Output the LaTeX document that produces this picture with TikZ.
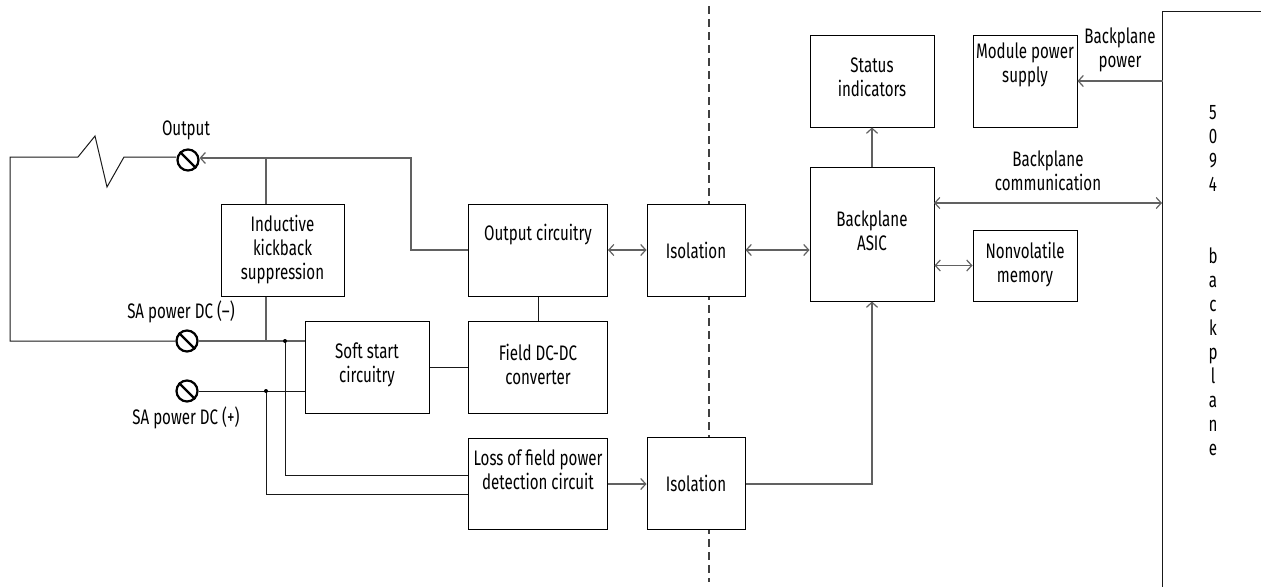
\documentclass[tikz,border=0pt]{standalone}
\usepackage{fontspec}
\setmainfont[FakeStretch=0.72]{Fira Sans}
\usetikzlibrary{arrows.meta}
\tikzset{
	blockbox/.style={draw=black, line width=1, fill=white, inner sep=0, align=center},
	wire/.style={line width=1.2, color=black!62},
	thinwire/.style={line width=1, color=black!90},
	barbs/.style={>={Straight Barb[length=5,width=11]}},
	terminal/.style={draw=black, line width=2.2, fill=white, circle, minimum size=21, inner sep=0},
	plainlabel/.style={inner sep=0, align=center},
}

\begin{document}
\begin{tikzpicture}[x=1pt, y=-1pt, font=\fontsize{21}{24}\selectfont, barbs]
	\useasboundingbox (0, 0) rectangle (1261, 587);

	%%%%% divider %%%%%
	\draw[line width=2, color=black!75, dash pattern=on 8 off 5] (709, 6) -- (709, 582);

	%%%%% blocks %%%%%
	\node[blockbox, minimum width=123, minimum height=92] (inductive) at (282.5, 250) {Inductive\\kickback\\suppression};
	\node[blockbox, minimum width=124, minimum height=92] (soft) at (367, 367) {Soft start\\circuitry\\[-16]};
	\node[blockbox, minimum width=139, minimum height=92] (output) at (538, 250) {Output circuitry\\[12]};
	\node[blockbox, minimum width=139, minimum height=92] (field) at (538, 367) {Field DC-DC\\converter\\[-18]};
	\node[blockbox, minimum width=139, minimum height=91] (loss) at (538, 483.5) {Loss of field power\\detection circuit\\[3]};
	\node[blockbox, minimum width=98, minimum height=92] (isoa) at (696, 250) {Isolation};
	\node[blockbox, minimum width=98, minimum height=92] (isob) at (696, 483) {Isolation};
	\node[blockbox, minimum width=124, minimum height=134] (asic) at (872, 234) {Backplane\\ASIC\\[-18]};
	\node[blockbox, minimum width=124, minimum height=92] (status) at (872, 81) {Status\\indicators\\[-16]};
	\node[blockbox, minimum width=104, minimum height=92] (supply) at (1025, 81) {Module power\\supply\\[12]};
	\node[blockbox, minimum width=104, minimum height=71] (memory) at (1025, 265.5) {Nonvolatile\\memory\\[-17]};

	%%%%% backplane %%%%%
	\coordinate (railtop) at (1162.5, 11);
	\coordinate (railend) at (1261, 11);
	\coordinate (railfoot) at (1162.5, 587);
	\draw[thinwire] (railend) -- (railtop) -- (railfoot);
	\node[plainlabel] (railtext) at (1213, 280.5) {5\\0\\9\\4\\~\\~\\b\\a\\c\\k\\p\\l\\a\\n\\e};

	%%%%% terminals %%%%%
	\node[terminal] (tout) at (188, 160) {};
	\node[terminal] (tneg) at (187, 341) {};
	\node[terminal] (tpos) at (187, 391) {};
	\draw[line width=2.2] (tout.north west) -- (tout.south east);
	\draw[line width=2.2] (tneg.north west) -- (tneg.south east);
	\draw[line width=2.2] (tpos.north west) -- (tpos.south east);
	\node[plainlabel] (toutlabel) at (186, 130) {Output};
	\node[plainlabel] (tneglabel) at (181, 312) {SA power DC (--)};
	\node[plainlabel] (tposlabel) at (186, 418) {SA power DC (+)};

	%%%%% load loop %%%%%
	\coordinate (loopa) at (10, 157);
	\coordinate (loopb) at (10, 341);
	\coordinate (zig) at (78, 157);
	\coordinate (zag) at (124, 157);
	\draw[thinwire] (tout.west |- zag) -- (zag) -- (107, 187) -- (95, 136) -- (zig) -- (loopa) -- (loopb) -- (tneg.west);

	%%%%% wires %%%%%
	\coordinate (outbend) at (411, 158);
	\coordinate (outjoin) at (266, 158);
	\coordinate (negjoin) at (266, 341);
	\coordinate (negdot) at (285, 341);
	\coordinate (posdot) at (266, 391);
	\coordinate (lossneg) at (468, 475);
	\coordinate (losspos) at (468, 494);
	\coordinate (asicup) at (872, 484);

	\draw[wire, ->] (output.west) -| (outbend) -- (tout.east |- outbend);
	\draw[wire] (outjoin) -- (outjoin |- inductive.north);
	\draw[wire] (negjoin |- inductive.south) -- (negjoin);
	\draw[wire] (tneg.east) -- (tneg -| soft.west);
	\draw[thinwire] (tpos.east) -- (tpos -| soft.west);
	\draw[thinwire] (negdot) |- (lossneg);
	\draw[thinwire] (posdot) |- (losspos);
	\fill (negdot) circle (2);
	\fill (posdot) circle (2);

	\draw[thinwire] (soft) -- (field);
	\draw[thinwire] (field) -- (output);
	\draw[wire, <->] (output) -- (isoa);
	\draw[wire, <->] (isoa) -- (isoa -| asic.west);
	\draw[wire, ->] (loss.east |- asicup) -- (isob.west |- asicup);
	\draw[wire, ->] (isob.east |- asicup) -- (asicup) -- (asic.south);
	\draw[wire, ->] (asic) -- (status);
	\draw[wire, ->] (supply -| railtop) -- (supply.east);
	\draw[wire, <->] (934, 203) -- (1162, 203);
	\draw[wire, <->] (memory.west -| asic.east) -- (memory.west);

	%%%%% labels %%%%%
	\node[plainlabel] (powertext) at (1120, 50) {Backplane\\power};
	\node[plainlabel] (commtext) at (1048, 171) {Backplane\\communication};
\end{tikzpicture}
\end{document}
